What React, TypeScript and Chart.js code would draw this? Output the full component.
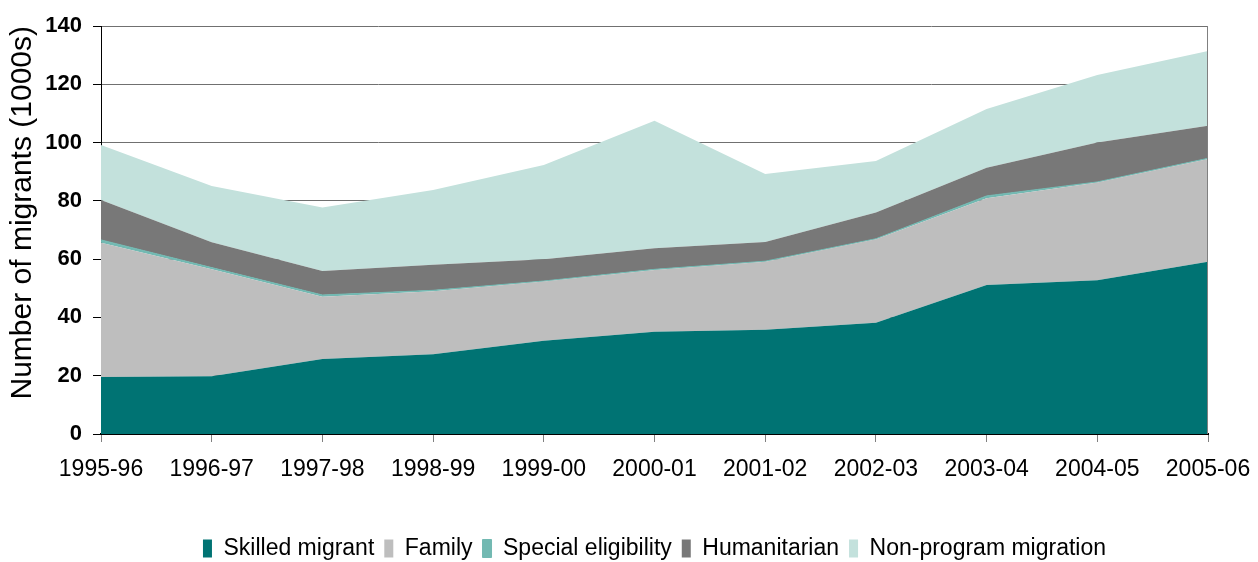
import React, { useEffect, useRef } from "react";
import { Chart, registerables } from "chart.js";

Chart.register(...registerables);

const categories = ["1995-96", "1996-97", "1997-98", "1998-99", "1999-00", "2000-01", "2001-02", "2002-03", "2003-04", "2004-05", "2005-06"];
const skilledMigrant = [19.6, 19.8, 25.7, 27.4, 32.0, 35.1, 35.8, 38.2, 51.1, 52.8, 59.1];
const family = [46.0, 36.7, 21.4, 21.6, 20.3, 21.2, 23.3, 28.6, 29.8, 33.5, 35.3];
const specialEligibility = [1.0, 0.6, 0.6, 0.3, 0.2, 0.2, 0.2, 0.2, 0.8, 0.2, 0.2];
const humanitarian = [13.7, 8.7, 8.2, 8.8, 7.5, 7.2, 6.6, 9.0, 9.7, 13.5, 11.2];
const nonProgram = [18.9, 19.3, 21.8, 25.6, 32.3, 43.8, 23.3, 17.7, 20.1, 23.2, 25.6];
const yTicks = [0, 20, 40, 60, 80, 100, 120, 140];

const SANS = "'Liberation Sans', Arial, sans-serif";

const rightBorder = {
  id: "rightBorder",
  afterDatasetsDraw(chart: any) {
    const { ctx, chartArea } = chart;
    ctx.save();
    ctx.strokeStyle = "#808080";
    ctx.lineWidth = 1;
    ctx.beginPath();
    ctx.moveTo(Math.round(chartArea.right) - 0.5, chartArea.top);
    ctx.lineTo(Math.round(chartArea.right) - 0.5, chartArea.bottom);
    ctx.stroke();
    ctx.restore();
  },
};

export default function App() {
  const ref = useRef<HTMLCanvasElement>(null);
  useEffect(() => {
    document.body.style.overflow = "hidden";
    const mk = (label: string, data: number[], color: string, fill: any, bw = 0) => ({
      label,
      data,
      backgroundColor: color,
      borderColor: color,
      borderWidth: bw,
      pointRadius: 0,
      fill,
      tension: 0,
    });
    const chart = new Chart(ref.current!, {
      type: "line",
      data: {
        labels: categories,
        datasets: [
          mk("Skilled migrant", skilledMigrant, "#007373", "origin"),
          mk("Family", family, "#BEBEBE", "-1"),
          mk("Special eligibility", specialEligibility, "#72B9B2", "-1", 1),
          mk("Humanitarian", humanitarian, "#787878", "-1"),
          mk("Non-program migration", nonProgram, "#C3E1DC", "-1"),
        ],
      },
      options: {
        responsive: false,
        animation: false,
        layout: { padding: { left: 0, right: 42, top: 18, bottom: 0 } },
        plugins: {
          tooltip: { enabled: false },
          legend: {
            position: "bottom",
            fullSize: false,
            labels: {
              boxWidth: 9,
              boxHeight: 18,
              padding: 10,
              color: "#000",
              font: { family: SANS, size: 23 },
            },
          },
        },
        scales: {
          x: {
            type: "category",
            offset: false,
            afterFit: (s: any) => { s.height = 93; s.paddingLeft = 0; s.paddingRight = 0; },
            grid: { drawOnChartArea: false, drawTicks: true, tickLength: 8, tickColor: "#808080" },
            border: { color: "#000", width: 2 },
            ticks: { color: "#000", padding: 14, maxRotation: 0, autoSkip: false, font: { family: SANS, size: 23 } },
          },
          y: {
            stacked: true,
            min: 0,
            max: 140,
            afterFit: (s: any) => { s.width = 93; s.paddingTop = 0; s.paddingBottom = 0; },
            afterBuildTicks: (s: any) => { s.ticks = yTicks.map((v) => ({ value: v })); },
            grid: { color: "#707070", tickLength: 8, tickColor: "#000", lineWidth: 1 },
            border: { color: "#000", width: 1 },
            ticks: { color: "#000", padding: 11, font: { family: SANS, size: 22, weight: "bold" } },
            title: {
              display: true,
              text: "Number of migrants (1000s)",
              color: "#000",
              padding: 0,
              align: "end",
              font: { family: SANS, size: 30, lineHeight: 1 },
            },
          },
        },
      },
      plugins: [rightBorder],
    } as any);
    return () => chart.destroy();
  }, []);
  return <canvas ref={ref} width={1242} height={562} style={{ display: "block" }} />;
}
